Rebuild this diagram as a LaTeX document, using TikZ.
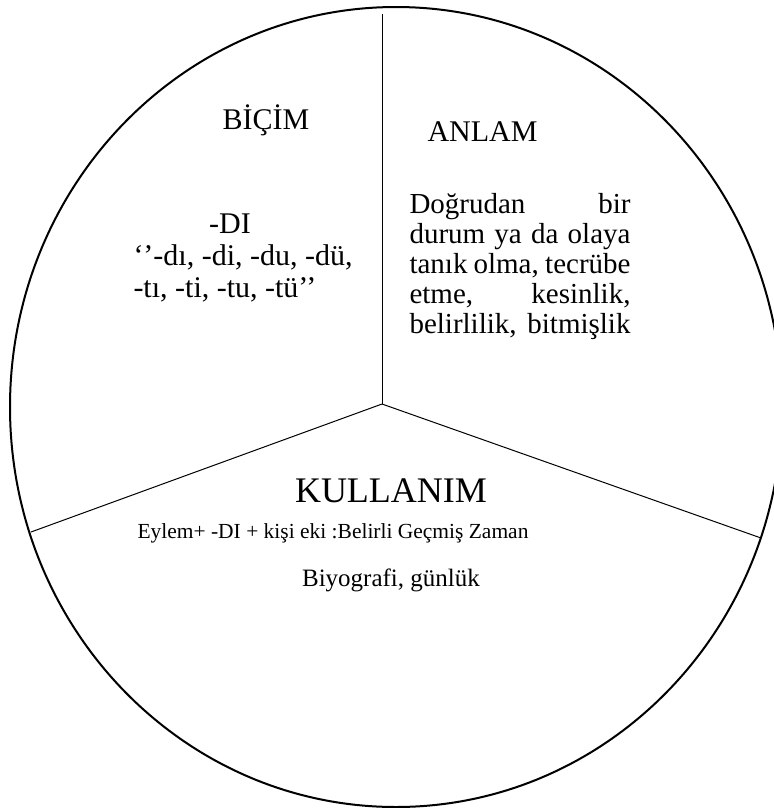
\documentclass[tikz,border=0pt]{standalone}
\usepackage{fontspec}
\setmainfont{Liberation Serif}

\tikzset{every picture/.style={line width=0.75pt}}

\begin{document}
\begin{tikzpicture}[x=0.75pt,y=0.75pt,yscale=-1,xscale=1]
\useasboundingbox (0,0) rectangle (774,808);

%Shape: Ellipse [id:outer]
\draw  [line width=1.5] (396,407) ellipse (386 and 400);

% three corners of the slices
\coordinate (mid) at (382,404);
\coordinate (top) at (382,14);
\coordinate (lft) at (31,532);
\coordinate (rgt) at (761,538);

%Straight Lines [id:slices]
\draw  (mid) -- (top) ;
\draw  (mid) -- (lft) ;
\draw  (mid) -- (rgt) ;

% Text Node
\draw (266,129) node (bicim) [anchor=base][inner sep=0.75pt]  [font=\fontsize{22.5}{23}\selectfont] [align=left] {BİÇİM};
% Text Node
\draw (426,141) node (anlam) [anchor=base west][inner sep=0.75pt]  [font=\fontsize{22.5}{23}\selectfont] [align=left] {ANLAM};
% Text Node
\draw (230,233) node (di) [anchor=base][inner sep=0.75pt]  [font=\fontsize{22.5}{23}\selectfont] [align=left] {-DI};
% Text Node
\draw (132,265) node (dilist) [anchor=base west][inner sep=0.75pt]  [font=\fontsize{22.5}{23}\selectfont] [align=left] {‘’-dı, -di, -du, -dü,};
% Text Node
\draw (132,297) node (tilist) [anchor=base west][inner sep=0.75pt]  [font=\fontsize{22.5}{23}\selectfont] [align=left] {-tı, -ti, -tu, -tü’’};
% Text Node
\draw (409,193) node (anlamtxt) [anchor=north west][inner sep=0pt]  [font=\fontsize{21.75}{22.5}\selectfont] [align=left] {\makebox[165.75pt][s]{Doğrudan bir}\\ \makebox[165.75pt][s]{durum ya da olaya}\\ \makebox[165.75pt][s]{tanık olma, tecrübe}\\ \makebox[165.75pt][s]{etme, kesinlik,}\\ \makebox[165.75pt][s]{belirlilik, bitmişlik}};
% Text Node
\draw (391,502) node (kullanim) [anchor=base][inner sep=0.75pt]  [font=\fontsize{27}{27}\selectfont] [align=left] {KULLANIM};
% Text Node
\draw (333,538) node (eylem) [anchor=base][inner sep=0.75pt]  [font=\fontsize{16.1}{16}\selectfont] [align=left] {Eylem+ -DI + kişi eki :Belirli Geçmiş Zaman};
% Text Node
\draw (391,586) node (biyografi) [anchor=base][inner sep=0.75pt]  [font=\fontsize{18.75}{19}\selectfont] [align=left] {Biyografi, günlük};

\end{tikzpicture}
\end{document}
